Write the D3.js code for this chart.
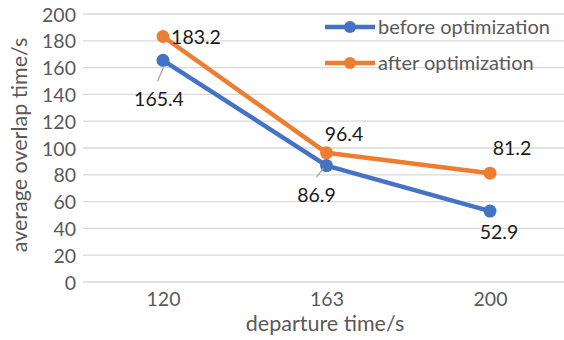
<!DOCTYPE html>
<html>
<head>
<meta charset="utf-8">
<script src="https://cdn.jsdelivr.net/npm/d3@7"></script>
<style>
  body { margin: 0; background: #fff; }
  svg { display: block; font-family: Lato, "Noto Sans", sans-serif; }
</style>
</head>
<body>
<svg id="chart"></svg>
<script>
// chart values
const categories = ['120', '163', '200'];
const beforeValues = [165.4, 86.9, 52.9];
const afterValues = [183.2, 96.4, 81.2];
const yTicks = [0, 20, 40, 60, 80, 100, 120, 140, 160, 180, 200];

const seriesNames = ['before optimization', 'after optimization'];

const width = 564, height = 340;

const svg = d3.select('#chart')
  .attr('width', width)
  .attr('height', height);

const x = d3.scalePoint()
  .domain(categories)
  .range([163, 490]);

const y = d3.scaleLinear()
  .domain([0, 200])
  .range([282, 14]);

// gridlines
svg.append('g')
  .selectAll('line')
  .data(yTicks)
  .join('line')
  .attr('x1', 83)
  .attr('x2', 575)
  .attr('y1', d => y(d))
  .attr('y2', d => y(d))
  .attr('stroke', '#d9d9d9')
  .attr('stroke-width', 1.3);

// y axis labels
const yAxis = d3.axisLeft(y).tickValues(yTicks).tickSize(0).tickPadding(0);
const yG = svg.append('g')
  .attr('transform', 'translate(76,0)')
  .call(yAxis);
yG.select('.domain').remove();
yG.selectAll('text')
  .attr('font-size', '19.5px')
  .attr('font-family', 'Lato, "Noto Sans", sans-serif')
  .attr('fill', '#595959')
  .attr('dy', '0.36em');

// x axis labels
const xAxis = d3.axisBottom(x).tickSize(0).tickPadding(0);
const xG = svg.append('g')
  .attr('transform', 'translate(0,298.5)')
  .call(xAxis);
xG.select('.domain').remove();
xG.selectAll('text')
  .attr('font-size', '19.5px')
  .attr('font-family', 'Lato, "Noto Sans", sans-serif')
  .attr('fill', '#595959')
  .attr('dy', '0.36em');

// axis titles
svg.append('text')
  .attr('x', 325)
  .attr('y', 331)
  .attr('text-anchor', 'middle')
  .attr('font-size', '21.5px')
  .attr('fill', '#595959')
  .text('departure time/s');

svg.append('text')
  .attr('transform', 'rotate(-90)')
  .attr('x', -145)
  .attr('y', 27)
  .attr('text-anchor', 'middle')
  .attr('font-size', '21.5px')
  .attr('fill', '#595959')
  .text('average overlap time/s');

const series = [
  { name: seriesNames[0], values: beforeValues, color: '#4472C4' },
  { name: seriesNames[1], values: afterValues, color: '#ED7D31' }
];

const line = d3.line()
  .x((d, i) => x(categories[i]))
  .y(d => y(d));

series.forEach(s => {
  svg.append('path')
    .datum(s.values)
    .attr('d', line)
    .attr('fill', 'none')
    .attr('stroke', s.color)
    .attr('stroke-width', 4.5)
    .attr('stroke-linejoin', 'round');

  svg.append('g')
    .selectAll('circle')
    .data(s.values)
    .join('circle')
    .attr('cx', (d, i) => x(categories[i]))
    .attr('cy', d => y(d))
    .attr('r', 6.5)
    .attr('fill', s.color);
});

// data labels (offsets from point, in px) and leader lines
const labelOffsets = [
  [[-4, 39], [-10, 29], [9, 21]],
  [[33, 0], [17.5, -19], [22, -25]]
];
const leaders = [
  [[[0.5, 7], [-5.5, 21]], [[-3, 2.5], [-10, 11.5]], null],
  [null, null, null]
];

series.forEach((s, si) => {
  s.values.forEach((v, i) => {
    const px = x(categories[i]), py = y(v);
    const [dx, dy] = labelOffsets[si][i];
    const ld = leaders[si][i];
    if (ld) {
      svg.append('line')
        .attr('x1', px + ld[0][0]).attr('y1', py + ld[0][1])
        .attr('x2', px + ld[1][0]).attr('y2', py + ld[1][1])
        .attr('stroke', '#a6a6a6')
        .attr('stroke-width', 1.3);
    }
    svg.append('text')
      .attr('x', px + dx)
      .attr('y', py + dy)
      .attr('dy', '0.36em')
      .attr('text-anchor', 'middle')
      .attr('font-size', '19.5px')
      .attr('fill', '#1a1a1a')
      .text(v.toFixed(1));
  });
});

// legend
const legend = svg.append('g');
series.forEach((s, i) => {
  const ly = 27 + i * 36;
  legend.append('line')
    .attr('x1', 325).attr('x2', 375)
    .attr('y1', ly).attr('y2', ly)
    .attr('stroke', s.color)
    .attr('stroke-width', 4.5);
  legend.append('circle')
    .attr('cx', 350).attr('cy', ly).attr('r', 6)
    .attr('fill', s.color);
  legend.append('text')
    .attr('x', 378).attr('y', ly)
    .attr('dy', '0.36em')
    .attr('font-size', '20px')
    .attr('fill', '#595959')
    .text(s.name);
});
</script>
</body>
</html>
